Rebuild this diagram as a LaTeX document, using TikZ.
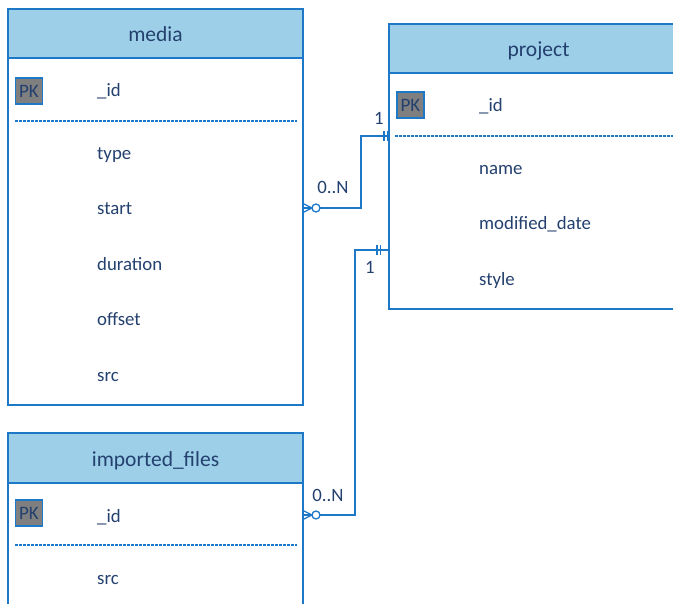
\documentclass[tikz,border=0pt]{standalone}
\usepackage{fontspec}
\setmainfont{Carlito}
\definecolor{ebord}{HTML}{1E78C8}
\definecolor{ehead}{HTML}{9DD0E8}
\definecolor{etext}{HTML}{23406E}
\definecolor{pkfill}{HTML}{7F7F7F}
\begin{document}
\begin{tikzpicture}[x=1pt,y=-1pt,
 box/.style={draw=ebord, line width=1.2pt, fill=white},
 head/.style={draw=ebord, line width=1.2pt, fill=ehead},
 title/.style={text=etext, font=\fontsize{21.5}{24}\selectfont, anchor=base, inner sep=0pt},
 field/.style={text=etext, font=\fontsize{18.8}{21}\selectfont, anchor=base west, inner sep=0pt},
 pk/.style={draw=ebord, fill=pkfill, line width=1.2pt, minimum width=27pt, minimum height=26pt, inner sep=0pt, text=etext, font=\fontsize{19}{20}\selectfont},
 sep/.style={draw=ebord, dash pattern=on 2.5pt off 1.5pt, line width=1.2pt},
 conn/.style={draw=ebord, line width=1.3pt},
 lbl/.style={text=etext, font=\fontsize{18.8}{21}\selectfont, inner sep=0pt}]
\useasboundingbox (0,0) rectangle (673,604);
\clip (0,0) rectangle (673,604);
% media
\draw[box] (8,9) rectangle (303,405);
\draw[head] (8,9) rectangle (303,58);
\node[title] (mediaT) at (155.5,42) {media};
\node[pk] (mediaPK) at (29,91) {PK};
\node[field] (mediaId) at (97,97) {\_id};
\draw[sep] (15,121) -- (297,121);
\node[field] (mType) at (97,160) {type};
\node[field] (mStart) at (97,215) {start};
\node[field] (mDur) at (97,271) {duration};
\node[field] (mOff) at (97,326) {offset};
\node[field] (mSrc) at (97,382) {src};
% project
\draw[box] (389,24) rectangle (690,309);
\draw[head] (389,24) rectangle (690,73);
\node[title] (projT) at (538.5,57) {project};
\node[pk] (projPK) at (410.5,105) {PK};
\node[field] (pId) at (479,112) {\_id};
\draw[sep] (395,136) -- (673,136);
\node[field] (pName) at (479,175) {name};
\node[field] (pMod) at (479,230) {modified\_date};
\node[field] (pStyle) at (479,286) {style};
% imported_files
\draw[box] (8,433) rectangle (303,640);
\draw[head] (8,433) rectangle (303,483);
\node[title] (impT) at (155.5,466.5) {imported\_files};
\node[pk] (impPK) at (29,513) {PK};
\node[field] (iId) at (97,522) {\_id};
\draw[sep] (15,545) -- (297,545);
\node[field] (iSrc) at (97,584) {src};
% connector endpoints
\coordinate (mEnd) at (303,208);
\coordinate (pEnd1) at (389,136);
\coordinate (iEnd) at (303,515);
\coordinate (pEnd2) at (389,250);
\coordinate (bend1) at (361,208);
\coordinate (bend2) at (355,515);
% media -> project
\draw[conn] (mEnd) ++(17,0) -- (bend1) |- (pEnd1);
\draw[conn] (mEnd) ++(0,-4.5) -- ++(9,4.5) -- ++(-9,4.5);
\draw[conn] (mEnd) -- ++(9,0);
\draw[conn] (mEnd) ++(13,0) circle[radius=4];
\draw[conn] (pEnd1) ++(-5,-5) -- ++(0,10);
\draw[conn] (pEnd1) ++(-1.5,-5) -- ++(0,10);
\node[lbl] (l01) at (333,187) {0..N};
\node[lbl] (l11) at (379,118) {1};
% imported -> project
\draw[conn] (iEnd) ++(17,0) -- (bend2) |- (pEnd2);
\draw[conn] (iEnd) ++(0,-4.5) -- ++(9,4.5) -- ++(-9,4.5);
\draw[conn] (iEnd) -- ++(9,0);
\draw[conn] (iEnd) ++(13,0) circle[radius=4];
\draw[conn] (pEnd2) ++(-12,-5) -- ++(0,10);
\draw[conn] (pEnd2) ++(-8.5,-5) -- ++(0,10);
\node[lbl] (l02) at (328,495) {0..N};
\node[lbl] (l12) at (370,267) {1};
\end{tikzpicture}
\end{document}
